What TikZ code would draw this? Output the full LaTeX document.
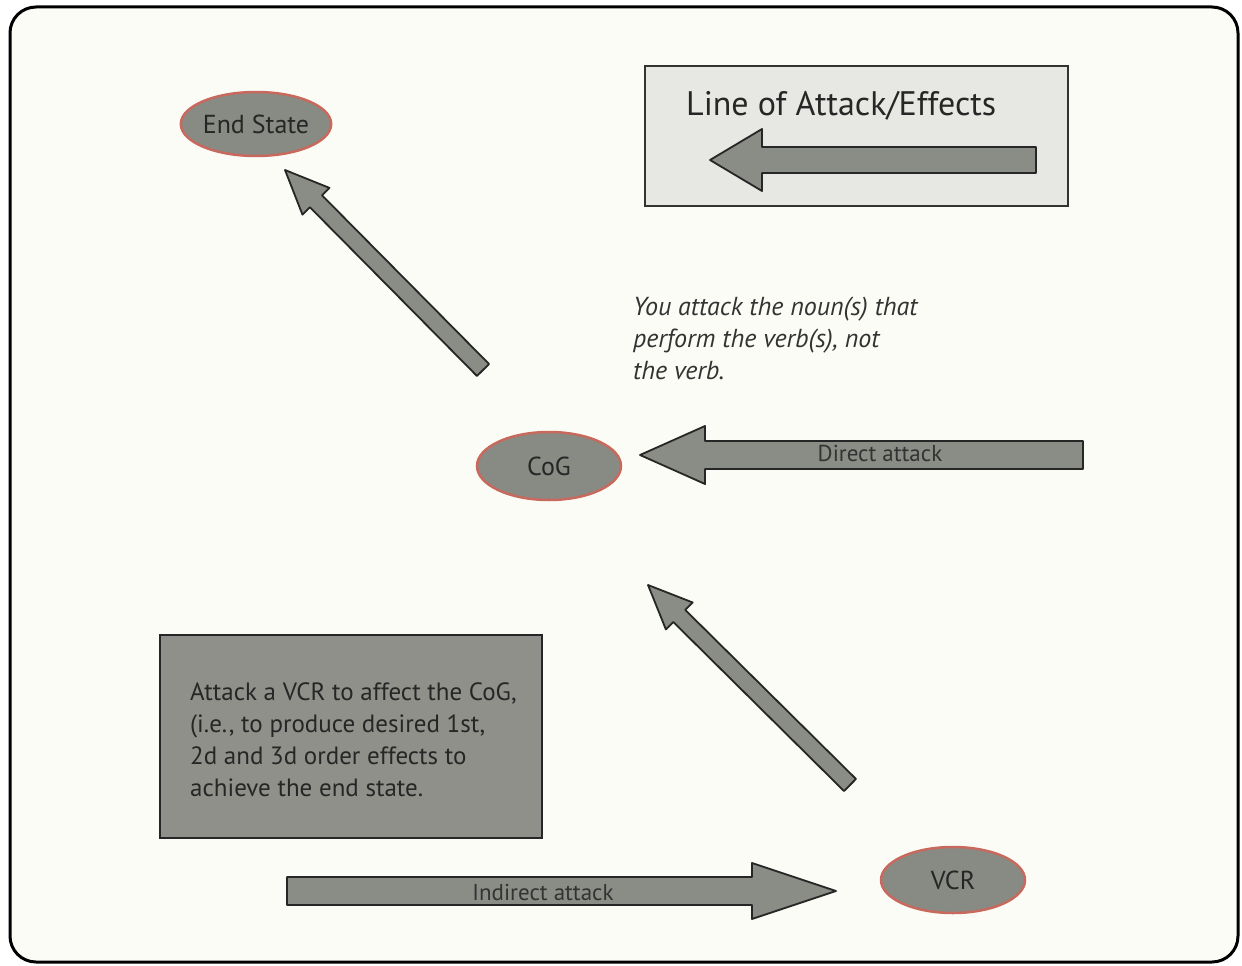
\documentclass[tikz,border=0pt]{standalone}
\usepackage{fontspec}
\setmainfont{PT Sans}
\usetikzlibrary{calc,shapes.geometric}
\definecolor{paper}{HTML}{FCFCF6}
\definecolor{ovalfill}{HTML}{888A84}
\definecolor{ovalrim}{HTML}{C8695E}
\definecolor{arrfill}{HTML}{8A8C86}
\definecolor{boxfill}{HTML}{8F908A}
\definecolor{legfill}{HTML}{E7E8E3}
\tikzset{
  oval/.style={ellipse, draw=ovalrim, fill=ovalfill, line width=2.5pt, inner sep=0pt,
    minimum width=144pt, minimum height=64pt, font=\fontsize{26}{28}\selectfont, text=black!85},
  blockarrow/.style={draw=black!85, fill=arrfill, line width=1.8pt, line join=round},
  arrlabel/.style={font=\fontsize{23}{24}\selectfont, text=black!80, inner sep=0pt},
}
\newcommand{\blockarr}[5]{%
  \coordinate (ba-b) at ($(#2)!#5!(#1)$);
  \draw[blockarrow] ($(#1)!#3!90:(#2)$) -- ($(ba-b)!#3!-90:(#1)$) -- ($(ba-b)!#4!-90:(#1)$) -- (#2)
    -- ($(ba-b)!#4!90:(#1)$) -- ($(ba-b)!#3!90:(#1)$) -- ($(#1)!#3!-90:(#2)$) -- cycle;
}
\begin{document}
\begin{tikzpicture}[x=1pt,y=-1pt]
\useasboundingbox (0,0) rectangle (1242,966);
\fill[white] (0,0) rectangle (1242,966);
\draw[line width=3pt, fill=paper, rounded corners=26pt] (10,7) rectangle (1238,962);

% ovals
\node[oval] (end) at (256,124) {End State};
\node[oval, minimum height=68pt] (cog) at (549,466) {CoG};
\node[oval, minimum height=66pt] (vcr) at (953,880) {VCR};

% legend
\node[draw=black!80, fill=legfill, line width=2pt, minimum width=423pt, minimum height=140pt, inner sep=0pt] (legend) at (856.5,136) {};
\node[anchor=base west, inner sep=0pt, font=\fontsize{34}{36}\selectfont, text=black!85] (legtext) at (686,115) {Line of Attack/Effects};
\coordinate (lt) at (1036,160);
\coordinate (lh) at (710,160);
\blockarr{lt}{lh}{13pt}{31pt}{52pt}

% direct attack
\coordinate (dt) at (1083,455);
\coordinate (dh) at (640,455);
\blockarr{dt}{dh}{14pt}{29pt}{65pt}
\node[arrlabel] (dlab) at (880,453) {Direct attack};

% indirect attack
\coordinate (it) at (287,891);
\coordinate (ih) at (836,891);
\blockarr{it}{ih}{14pt}{28pt}{84pt}
\node[arrlabel] (ilab) at (543,892) {Indirect attack};

% diagonal arrows
\coordinate (d1t) at (483,370);
\coordinate (d1h) at (285,170);
\blockarr{d1t}{d1h}{8.5pt}{19pt}{44pt}
\coordinate (d2t) at (850,785);
\coordinate (d2h) at (648,585);
\blockarr{d2t}{d2h}{8.5pt}{19pt}{44pt}

% italic note
\node[anchor=north west, inner sep=0pt, align=left, font=\fontsize{26}{32}\itshape\selectfont, text=black!80] (note) at (633,297)
  {You attack the noun(s) that\\perform the verb(s), not\\the verb.};

% grey box
\node[draw=black!85, fill=boxfill, line width=2pt, minimum width=382pt, minimum height=203pt, inner sep=0pt] (box) at (351,736.5) {};
\node[anchor=north west, inner sep=0pt, align=left, font=\fontsize{25}{32}\selectfont, text=black!85] (boxtext) at (190,682)
  {Attack a VCR to affect the CoG,\\(i.e., to produce desired 1st,\\2d and 3d order effects to\\achieve the end state.};
\end{tikzpicture}
\end{document}
